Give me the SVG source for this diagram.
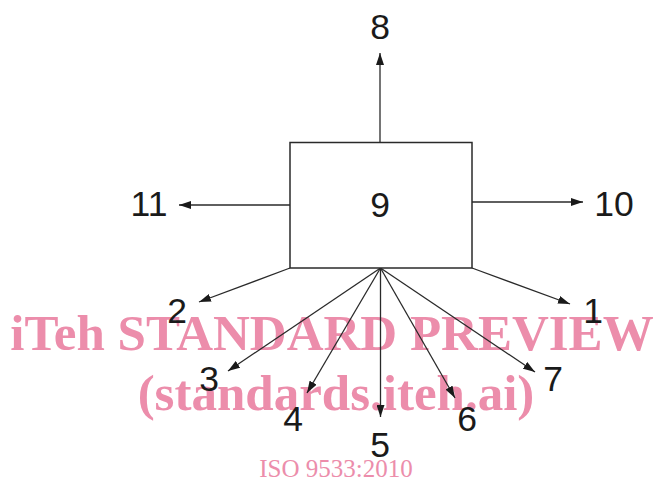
<svg xmlns="http://www.w3.org/2000/svg" width="655" height="481" viewBox="0 0 655 481">
<style>
.lbl{font-family:"Liberation Sans",Arial,sans-serif;font-size:35.5px;fill:#1a1a1a;text-anchor:middle}
.ln{stroke:#2a2a2a;stroke-width:1.3;fill:none}
.box{stroke:#2a2a2a;stroke-width:1.5;fill:#fff}
.wm{font-family:"Liberation Serif","Times New Roman",serif;font-weight:bold;font-size:51px;fill:#ec8dab;text-anchor:middle}
.iso{font-family:"Liberation Serif","Times New Roman",serif;font-size:25px;fill:#ec8dab;text-anchor:middle}
</style>
<defs>
<marker id="ah" viewBox="0 0 12 8" refX="12" refY="4" markerWidth="12" markerHeight="8" markerUnits="userSpaceOnUse" orient="auto">
<path d="M0,0 L12,4 L0,8 Z" fill="#1a1a1a"/>
</marker>
</defs>
<g id="watermark">
<text class="wm" x="332" y="350">iTeh STANDARD PREVIEW</text>
<text class="wm" x="336" y="410">(standards.iteh.ai)</text>
<text class="iso" x="336" y="477">ISO 9533:2010</text>
</g>
<g id="connectors">
<line class="ln" x1="380" y1="142" x2="380" y2="53" marker-end="url(#ah)"/>
<line class="ln" x1="290" y1="205" x2="179" y2="205" marker-end="url(#ah)"/>
<line class="ln" x1="472" y1="202" x2="583" y2="202" marker-end="url(#ah)"/>
<line class="ln" x1="290" y1="268" x2="199" y2="302" marker-end="url(#ah)"/>
<line class="ln" x1="472" y1="268" x2="570" y2="304" marker-end="url(#ah)"/>
<line class="ln" x1="380.5" y1="268" x2="228" y2="371" marker-end="url(#ah)"/>
<line class="ln" x1="380.5" y1="268" x2="307" y2="393" marker-end="url(#ah)"/>
<line class="ln" x1="380.5" y1="268" x2="380.5" y2="417" marker-end="url(#ah)"/>
<line class="ln" x1="380.5" y1="268" x2="455" y2="398" marker-end="url(#ah)"/>
<line class="ln" x1="380.5" y1="268" x2="535" y2="372" marker-end="url(#ah)"/>
</g>
<g id="node9">
<rect class="box" x="290" y="142.5" width="182" height="125.5"/>
<text class="lbl" x="380" y="217">9</text>
</g>
<g id="node8"><text class="lbl" x="380" y="39">8</text></g>
<g id="node11"><text class="lbl" x="149" y="216">11</text></g>
<g id="node10"><text class="lbl" x="614" y="216">10</text></g>
<g id="node2"><text class="lbl" x="177" y="323">2</text></g>
<g id="node1"><text class="lbl" x="593" y="323">1</text></g>
<g id="node3"><text class="lbl" x="209" y="391">3</text></g>
<g id="node4"><text class="lbl" x="293" y="431">4</text></g>
<g id="node5"><text class="lbl" x="380" y="457">5</text></g>
<g id="node6"><text class="lbl" x="467" y="431">6</text></g>
<g id="node7"><text class="lbl" x="553" y="391">7</text></g>
</svg>
